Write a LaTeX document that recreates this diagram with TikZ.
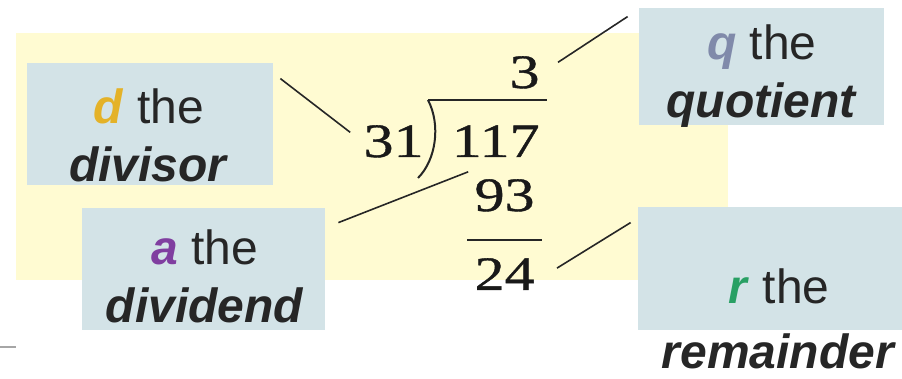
\documentclass[tikz,border=0pt]{standalone}
\usepackage{fontspec}
\setmainfont{Liberation Sans}
\newfontfamily\digitfont[FakeStretch=1.25,FakeBold=0.8]{Liberation Serif}
\definecolor{padyellow}{RGB}{255,251,210}
\definecolor{tagblue}{RGB}{211,227,231}
\definecolor{dcol}{RGB}{228,178,40}
\definecolor{qcol}{RGB}{128,138,170}
\definecolor{acol}{RGB}{128,62,160}
\definecolor{rcol}{RGB}{40,160,100}
\newcommand\keyletter[2]{\textcolor{#1}{\textbf{\textit{#2}}}}
\newcommand\term[1]{\textbf{\textit{#1}}}

\begin{document}
\begin{tikzpicture}[x=0.5pt,y=-0.5pt,
  tagbox/.style={fill=tagblue,inner sep=0pt},
  tagtext/.style={font=\fontsize{24}{29}\selectfont,align=center,text=black!85,inner sep=0pt},
  num/.style={font=\digitfont\fontsize{24}{28}\selectfont,inner sep=0pt,text=black!90},
  lead/.style={draw=black!85,line width=0.8pt},
]
\useasboundingbox (0,0) rectangle (902,379);
\fill[padyellow] (16,33) rectangle (728,280);
\draw[gray!70,line width=1pt] (0,347)--(16,347);

% label boxes
\node[tagbox,minimum width=123pt,minimum height=61pt] (dbox) at (150,124) {};
\node[tagbox,minimum width=122.5pt,minimum height=58.5pt] (qbox) at (761.5,66.5) {};
\node[tagbox,minimum width=121.5pt,minimum height=61pt] (abox) at (203.5,269) {};
\node[tagbox,minimum width=132pt,minimum height=61.5pt] (rbox) at (770,268.5) {};

\node[tagtext] (dtext) at (149,135) {\keyletter{dcol}{d} the\\\term{divisor}};
\node[tagtext] (qtext) at (762,76) {\keyletter{qcol}{q} the\\\term{quotient}};
\node[tagtext] (atext) at (205,276) {\keyletter{acol}{a} the\\\term{dividend}};
\node[tagtext,font=\fontsize{24}{32.5}\selectfont] (rtext) at (779,318.5) {\keyletter{rcol}{r} the\\\term{remainder}};

% long division
\node[num,anchor=base east] (divisor) at (424,157) {31};
\node[num,anchor=base east] (dividend) at (540,157) {117};
\node[num,anchor=base east] (quot) at (540,88) {3};
\node[num,anchor=base east] (product) at (535,211) {93};
\node[num,anchor=base east] (rem) at (535,290) {24};
\draw[lead,line width=1pt] (428,100)--(547,100);
\draw[lead,line width=1pt] (428,100) .. controls (441,125) and (436,160) .. (418,178);
\draw[lead,line width=1pt] (467,240)--(542,240);

% leader lines
\draw[lead] ([shift={(7,16)}]dbox.north east) -- ([shift={(-13,-9)}]divisor.west);
\draw[lead] ([shift={(13,15)}]abox.north east) -- ([shift={(-6,-7)}]product.north west);
\draw[lead] ([shift={(18,-10)}]quot.east) -- ([shift={(-11,9)}]qbox.north west);
\draw[lead] ([shift={(22,-6)}]rem.east) -- ([shift={(-7,16)}]rbox.north west);
\end{tikzpicture}
\end{document}
